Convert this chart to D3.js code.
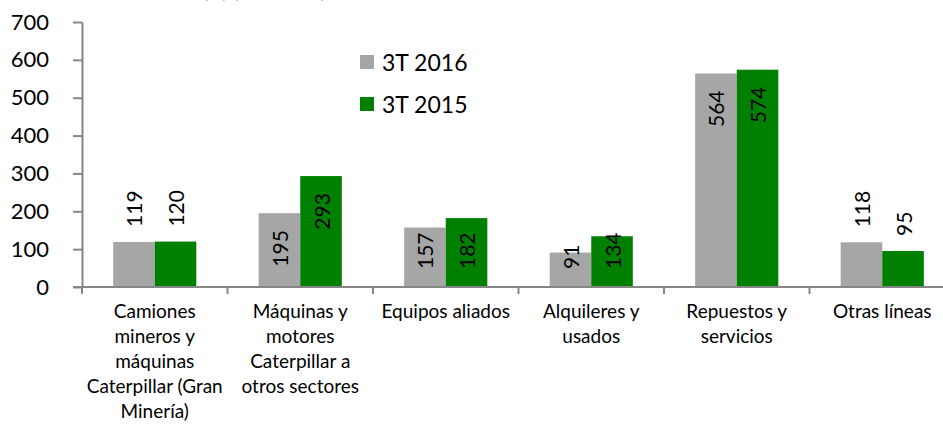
<!DOCTYPE html>
<html>
<head>
<meta charset="utf-8">
<script src="https://cdn.jsdelivr.net/npm/d3@7"></script>
<style>
  body { margin: 0; background: #fff; }
  text { font-family: Lato, "Open Sans", sans-serif; fill: #000; }
</style>
</head>
<body>
<script>
let width = 943;
let height = 426;

// data
let categories = ["c1", "c2", "c3", "c4", "c5", "c6"];
let categoryLabels = [
  ["Camiones", "mineros y", "máquinas", "Caterpillar (Gran", "Minería)"],
  ["Máquinas y", "motores", "Caterpillar a", "otros sectores"],
  ["Equipos aliados"],
  ["Alquileres y", "usados"],
  ["Repuestos y", "servicios"],
  ["Otras líneas"]
];
let series = ["3T 2016", "3T 2015"];
let values2016 = [119, 195, 157, 91, 564, 118];
let values2015 = [120, 293, 182, 134, 574, 95];
let yTicks = [0, 100, 200, 300, 400, 500, 600, 700];
let outsideLabels = ["c1", "c6"];
let colors = ["#a6a6a6", "#008000"];

let svg = d3.select("body").append("svg")
  .attr("width", width)
  .attr("height", height);

let plotLeft = 82, plotRight = 955, plotTop = 22, plotBottom = 287;

let x0 = d3.scaleBand().domain(categories).range([plotLeft, plotRight]);
let x1 = d3.scaleBand().domain(series).range([0, x0.bandwidth()]).paddingOuter(0.75);
let y = d3.scaleLinear().domain([0, 700]).range([plotBottom, plotTop]);

// title, cut by the top edge as in the original
svg.append("text")
  .attr("x", 326).attr("y", -3)
  .attr("text-anchor", "end")
  .style("font-weight", "bold")
  .style("font-size", "22px")
  .text("Ventas (1) (millones)");

// bars
let rows = categories.map((c, i) => ({ cat: c, vals: [values2016[i], values2015[i]] }));
let groups = svg.selectAll("g.cat").data(rows).enter().append("g")
  .attr("class", "cat")
  .attr("transform", d => "translate(" + x0(d.cat) + ",0)");

groups.selectAll("rect").data(d => d.vals.map((v, j) => ({ s: series[j], v: v, j: j })))
  .enter().append("rect")
  .attr("x", d => x1(d.s))
  .attr("y", d => y(d.v))
  .attr("width", x1.bandwidth())
  .attr("height", d => y(0) - y(d.v))
  .attr("fill", d => colors[d.j]);

// data labels, rotated
groups.each(function(row) {
  let g = d3.select(this);
  row.vals.forEach((v, j) => {
    let cx = x1(series[j]) + x1.bandwidth() / 2;
    let top = y(v);
    let t = g.append("text")
      .style("font-size", "21px")
      .attr("dominant-baseline", "central")
      .text(v);
    let len = t.node().getComputedTextLength();
    let start;
    if (outsideLabels.includes(row.cat)) {
      start = top - 15;
    } else {
      start = Math.min(top + 17 + len, y(0) - 18);
    }
    t.attr("text-anchor", "start")
     .attr("transform", "translate(" + cx + "," + start + ") rotate(-90)");
  });
});

// y axis
let yAxis = svg.append("g")
  .attr("transform", "translate(" + plotLeft + ",0)")
  .call(d3.axisLeft(y).tickValues(yTicks).tickSize(9).tickPadding(24).tickSizeOuter(0));
yAxis.selectAll("text").style("font-size", "22px").attr("fill", "#000");

// x axis
let xAxis = svg.append("g")
  .attr("transform", "translate(0," + plotBottom + ")");
xAxis.append("line")
  .attr("x1", plotLeft - 9).attr("x2", plotRight)
  .attr("y1", 0).attr("y2", 0);
xAxis.selectAll("line.tick").data(categories.concat(["end"])).enter().append("line")
  .attr("class", "tick")
  .attr("x1", d => d === "end" ? plotRight : x0(d))
  .attr("x2", d => d === "end" ? plotRight : x0(d))
  .attr("y1", 0).attr("y2", 7);

svg.selectAll(".domain, .tick line, line").attr("stroke", "#868686").attr("stroke-width", 2);

let labels = xAxis.selectAll("text.cat").data(categories).enter().append("text")
  .attr("class", "cat")
  .attr("text-anchor", "middle")
  .style("font-size", "19px")
  .attr("x", d => x0(d) + x0.bandwidth() / 2)
  .attr("y", 31);
labels.each(function(d, i) {
  let t = d3.select(this);
  categoryLabels[i].forEach((line, k) => {
    t.append("tspan")
      .attr("x", x0(d) + x0.bandwidth() / 2)
      .attr("dy", k === 0 ? 0 : 25)
      .text(line);
  });
});

// legend
let legend = svg.append("g").attr("transform", "translate(360,55)");
series.forEach((s, i) => {
  let row = legend.append("g").attr("transform", "translate(0," + (i * 42) + ")");
  row.append("rect").attr("width", 14).attr("height", 14).attr("fill", colors[i]);
  row.append("text")
    .attr("x", 22).attr("y", 7)
    .attr("dominant-baseline", "central")
    .style("font-size", "23px")
    .text(s);
});
</script>
</body>
</html>
